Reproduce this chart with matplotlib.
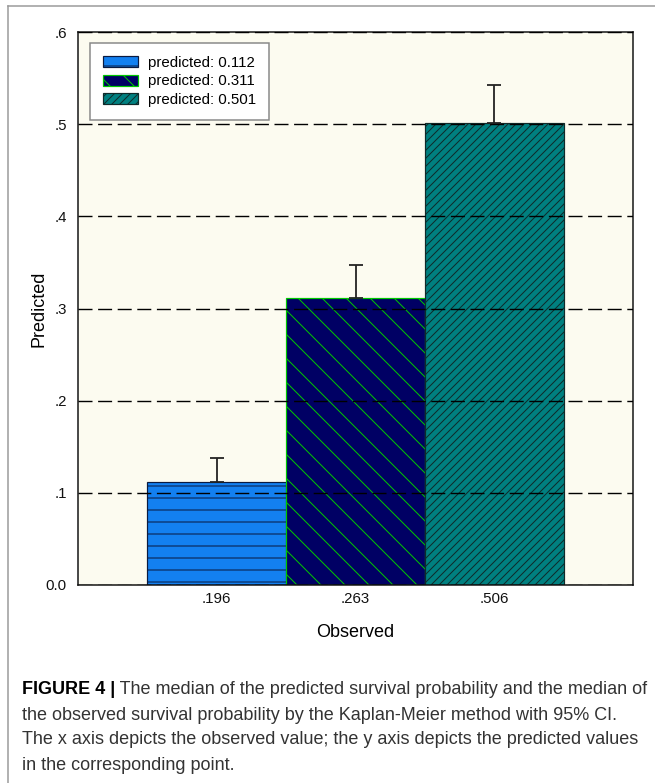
import matplotlib
matplotlib.use('Agg')
import matplotlib.pyplot as plt
from matplotlib.lines import Line2D

plt.rcParams['font.family'] = ['Liberation Sans', 'DejaVu Sans']

# data
observed_labels = ['.196', '.263', '.506']
predicted = [0.112, 0.311, 0.501]
ci_upper = [0.138, 0.347, 0.542]
legend_labels = ['predicted: 0.112', 'predicted: 0.311', 'predicted: 0.501']
yticks = [0.0, 0.1, 0.2, 0.3, 0.4, 0.5, 0.6]
ytick_labels = ['0.0', '.1', '.2', '.3', '.4', '.5', '.6']

face_colors = ['#1380F0', '#000064', '#008080']
edge_colors = ['#0A1A40', '#00C800', '#0F2A2A']
hatches = ['-', '\\', '///']

caption_bold = 'FIGURE 4 |'
caption_lines = [
    ' The median of the predicted survival probability and the median of',
    'the observed survival probability by the Kaplan-Meier method with 95% CI.',
    'The x axis depicts the observed value; the y axis depicts the predicted values',
    'in the corresponding point.',
]

W, H, DPI = 655, 783, 72
fig = plt.figure(figsize=(W / DPI, H / DPI), dpi=DPI)
fig.patch.set_facecolor('white')

ax = fig.add_axes([78 / W, 1 - 585 / H, 555 / W, 553 / H])
ax.set_facecolor('#FCFBF0')

x = list(range(len(predicted)))
for i in x:
    ax.bar(i, predicted[i], width=1.0, color=face_colors[i],
           edgecolor=edge_colors[i], hatch=hatches[i], linewidth=1.2,
           label=legend_labels[i], zorder=1)

err_up = [c - p for c, p in zip(ci_upper, predicted)]
ax.errorbar(x, predicted, yerr=[[0] * len(x), err_up], fmt='none',
            ecolor='#222222', elinewidth=1.8, capsize=7, capthick=1.8, zorder=3)

ax.set_xlim(-1, 3)
ax.set_ylim(0, 0.6)
ax.set_xticks(x)
ax.set_xticklabels(observed_labels)
ax.set_yticks(yticks)
ax.set_yticklabels(ytick_labels)
ax.tick_params(length=0, labelsize=15, colors='#111111')
ax.tick_params(axis='y', pad=11)
ax.tick_params(axis='x', pad=7)

ax.set_axisbelow(False)
ax.yaxis.grid(True, color='black', linestyle=(0, (10, 4)), linewidth=1.4)
for s in ax.spines.values():
    s.set_linewidth(1.5)
    s.set_color('#111111')

ax.set_xlabel('Observed', fontsize=18, labelpad=18)
ax.set_ylabel('Predicted', fontsize=18, labelpad=-2)

leg = ax.legend(loc='upper left', bbox_to_anchor=(12 / 555, 1 - 11 / 553),
                borderaxespad=0, fontsize=15, handlelength=2.33,
                handleheight=0.75, handletextpad=0.67, borderpad=0.85,
                labelspacing=0.3, fancybox=False, framealpha=1,
                edgecolor='#888888', facecolor='white')
leg.get_frame().set_linewidth(1.5)

# outer frame of the figure panel
fig.add_artist(Line2D([8 / W, 1], [1 - 6 / H, 1 - 6 / H], color='#999999', lw=1.5))
fig.add_artist(Line2D([8 / W, 8 / W], [0, 1 - 6 / H], color='#999999', lw=1.5))

# caption
cap_size = 18
y0 = 1 - 690 / H
dy = 25 / H
tb = fig.text(22 / W, y0, caption_bold, fontsize=cap_size, weight='bold',
              va='center', color='black')
fig.canvas.draw()
bb = tb.get_window_extent(fig.canvas.get_renderer())
fig.text(bb.x1 / W, y0, caption_lines[0], fontsize=cap_size, va='center', color='#333333')
for k, line in enumerate(caption_lines[1:], start=1):
    fig.text(22 / W, y0 - k * dy, line, fontsize=cap_size, va='center', color='#333333')

fig.savefig('out.png', dpi=DPI)
